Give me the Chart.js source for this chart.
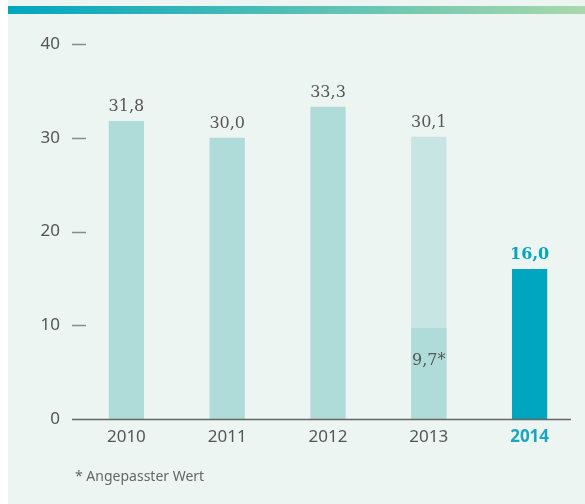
<!DOCTYPE html>
<html>
<head>
<meta charset="utf-8">
<script src="https://cdn.jsdelivr.net/npm/chart.js@4"></script>
<style>
  body { margin: 0; background: #fff; }
  #panel { position: absolute; left: 8px; top: 0; width: 577px; height: 504px; background: #edf5f2; }
  #stripe { position: absolute; left: 8px; top: 6px; width: 577px; height: 8px;
            background: linear-gradient(to right, #00a6bf, #a9d8ab); }
  #wrap { position: absolute; left: 0; top: 0; width: 585px; height: 504px; }
  #note { position: absolute; left: 75px; top: 466px; font: 14px "Noto Sans", sans-serif; color: #666; }
</style>
</head>
<body>
<div id="panel"></div>
<div id="stripe"></div>
<div id="wrap"><canvas id="myChart" width="585" height="504"></canvas></div>
<div id="note">* Angepasster Wert</div>
<script>
var years = ['2010', '2011', '2012', '2013', '2014'];
var values = [31.8, 30.0, 33.3, 30.1, 16.0];      // ursprünglicher Wert
var adjusted = [null, null, null, 9.7, null];      // angepasster Wert 2013
var yTicks = [0, 10, 20, 30, 40];

var barColors = ['#afdcd9', '#afdcd9', '#afdcd9', '#c6e5e3', '#00a6bf'];

function fmt(v) {
    return v.toFixed(1).replace('.', ',');
}

// value labels + short tick marks + baseline
var labelPlugin = {
    id: 'labels',
    afterDatasetsDraw: function(chart) {
        var ctx = chart.ctx;
        var y = chart.scales.y;

        ctx.save();
        ctx.strokeStyle = '#8a8a8a';
        ctx.lineWidth = 1.5;
        yTicks.forEach(function(t) {
            if (t === 0) return;
            var py = Math.round(y.getPixelForValue(t)) + 0.5;
            ctx.beginPath();
            ctx.moveTo(72, py);
            ctx.lineTo(86, py);
            ctx.stroke();
        });
        ctx.strokeStyle = '#666';
        ctx.beginPath();
        var by = Math.round(y.getPixelForValue(0)) + 0.5;
        ctx.moveTo(72, by);
        ctx.lineTo(571, by);
        ctx.stroke();

        var bars = chart.getDatasetMeta(0).data;
        ctx.textAlign = 'center';
        ctx.textBaseline = 'alphabetic';
        bars.forEach(function(bar, i) {
            if (i === 4) {
                ctx.font = 'bold 16px "DejaVu Serif"';
                ctx.fillStyle = '#00a6bf';
            } else {
                ctx.font = '16px "DejaVu Serif"';
                ctx.fillStyle = '#555';
            }
            ctx.fillText(fmt(values[i]), bar.x, bar.y - 10);
        });

        var adj = chart.getDatasetMeta(1).data;
        ctx.font = '16px "DejaVu Serif"';
        ctx.fillStyle = '#555';
        adjusted.forEach(function(v, i) {
            if (v === null) return;
            ctx.fillText(fmt(v) + '*', adj[i].x, adj[i].y + 37);
        });
        ctx.restore();
    }
};

var ctx1 = document.getElementById('myChart').getContext('2d');
var myBarChart = new Chart(ctx1, {
    type: 'bar',
    data: {
        labels: years,
        datasets: [
            {
                label: 'Wert',
                data: values,
                backgroundColor: barColors,
                barPercentage: 0.35,
                categoryPercentage: 1,
                grouped: false,
                order: 2
            },
            {
                label: 'Angepasst',
                data: adjusted,
                backgroundColor: '#afdcd9',
                barPercentage: 0.35,
                categoryPercentage: 1,
                grouped: false,
                order: 1
            }
        ]
    },
    options: {
        responsive: false,
        animation: false,
        layout: { padding: { top: 44, right: 5, left: 0, bottom: 0 } },
        plugins: {
            legend: { display: false },
            tooltip: { enabled: false }
        },
        scales: {
            x: {
                grid: { display: false, drawTicks: false },
                border: { display: false },
                afterFit: function(s) { s.height = 85; },
                ticks: {
                    padding: 8,
                    font: function(c) {
                        return { family: 'Noto Sans', size: 17, weight: c.index === 4 ? 'bold' : 'normal' };
                    },
                    color: function(c) { return c.index === 4 ? '#1aa6c0' : '#555'; }
                }
            },
            y: {
                min: 0,
                max: 40,
                grid: { display: false, drawTicks: false },
                border: { display: false },
                afterFit: function(s) { s.width = 76; },
                afterBuildTicks: function(s) {
                    s.ticks = yTicks.map(function(v) { return { value: v }; });
                },
                ticks: {
                    padding: 16,
                    font: { family: 'Noto Sans', size: 17 },
                    color: '#555'
                }
            }
        }
    },
    plugins: [labelPlugin]
});
</script>
</body>
</html>
